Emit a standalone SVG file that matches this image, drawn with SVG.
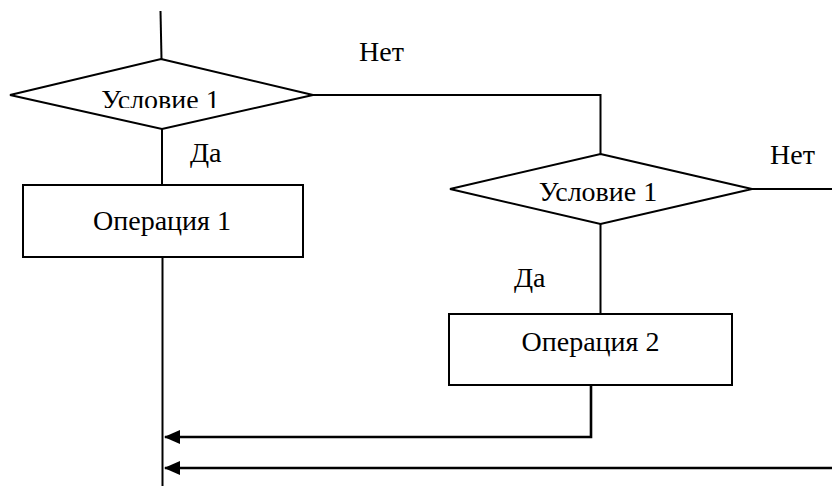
<svg xmlns="http://www.w3.org/2000/svg" width="832" height="486" viewBox="0 0 832 486">
<style>
.sh{fill:#fff;stroke:#000;stroke-width:2}
.ln{fill:none;stroke:#000;stroke-width:2}
.ar{fill:none;stroke:#000;stroke-width:2.6}
.c{text-anchor:middle}
</style>
<defs>
<marker id="ah" markerWidth="16" markerHeight="14" refX="15" refY="7" orient="auto" markerUnits="userSpaceOnUse">
<path d="M0,0 L16,7 L0,14 Z" fill="#000"/>
</marker>
<clipPath id="cl1"><rect x="0" y="60" width="330" height="48"/></clipPath>
<clipPath id="cl2"><rect x="440" y="150" width="330" height="52.5"/></clipPath>
</defs>
<rect width="832" height="486" fill="#fff"/>
<g id="connectors">
<path class="ln" d="M160.5,11 L161.5,59"/>
<path class="ln" d="M162,129 L162,185"/>
<path class="ln" d="M313,95 L600.5,95 L600.5,154"/>
<path class="ln" d="M752,189 L832,189"/>
<path class="ln" d="M600.5,224 L600.5,314"/>
<path class="ln" d="M162.5,257 L162.5,486"/>
<path class="ar" d="M591,385 L591,437 L165,437" marker-end="url(#ah)"/>
<path class="ar" d="M832,468 L165,468" marker-end="url(#ah)"/>
</g>
<g font-family="Liberation Serif, DejaVu Serif, serif" font-size="28" fill="#000">
<g id="cond1">
<polygon class="sh" points="161,59 313,95 162,129 10,95"/>
<text class="c" x="160.5" y="108.5" clip-path="url(#cl1)">Условие  1</text>
</g>
<g id="op1">
<rect class="sh" x="23" y="185" width="280" height="72"/>
<text class="c" x="162" y="230">Операция 1</text>
</g>
<g id="cond2">
<polygon class="sh" points="600.5,154 752,189 600.5,224 450,189"/>
<text class="c" x="598" y="200.5" clip-path="url(#cl2)">Условие  1</text>
</g>
<g id="op2">
<rect class="sh" x="449" y="314" width="283" height="71"/>
<text class="c" x="590.5" y="351">Операция 2</text>
</g>
<g id="labels">
<text x="359" y="61">Нет</text>
<text x="190" y="162">Да</text>
<text x="770" y="164">Нет</text>
<text x="514" y="287">Да</text>
</g>
</g>
</svg>
